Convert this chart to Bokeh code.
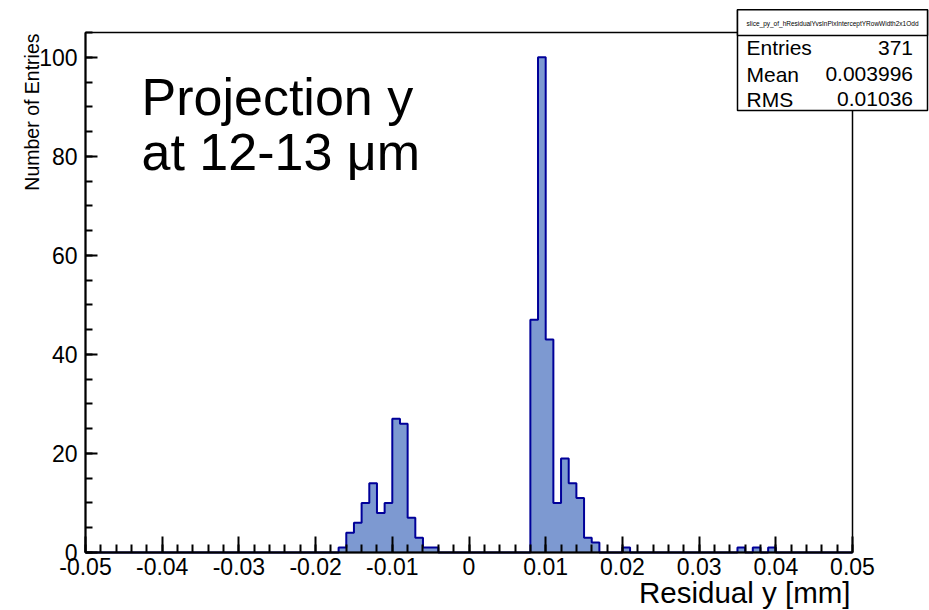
import math
import numpy as np
from bokeh.plotting import figure
from bokeh.models import Range1d, FixedTicker, Label, BoxAnnotation
from bokeh.embed import file_html
from bokeh.resources import INLINE

# ---- data ----
bin_low = -0.05
bin_width = 0.001
counts = [
    0, 0, 0, 0, 0, 0, 0, 0, 0, 0,
    0, 0, 0, 0, 0, 0, 0, 0, 0, 0,
    0, 0, 0, 0, 0, 0, 0, 0, 0, 0,
    0, 0, 0, 1, 4, 6, 10, 14, 8, 10,
    27, 26, 7, 3, 1, 1, 0, 0, 0, 0,
    0, 0, 0, 0, 0, 0, 0, 0, 47, 100,
    43, 10, 19, 14, 11, 3, 2, 0, 0, 0,
    1, 0, 0, 0, 0, 0, 0, 0, 0, 0,
    0, 0, 0, 0, 0, 1, 0, 1, 0, 1,
    0, 0, 0, 0, 0, 0, 0, 0, 0, 0,
]
x_ticks = [-0.05, -0.04, -0.03, -0.02, -0.01, 0.0, 0.01, 0.02, 0.03, 0.04, 0.05]
x_tick_labels = ["-0.05", "-0.04", "-0.03", "-0.02", "-0.01", "0", "0.01", "0.02", "0.03", "0.04", "0.05"]
y_ticks = [0, 20, 40, 60, 80, 100]
hist_name = "slice_py_of_hResidualYvsInPixInterceptYRowWidth2x1Odd"
stat_names = ["Entries", "Mean", "RMS"]
stat_values = ["371", "0.003996", "0.01036"]
title_lines = ["Projection y", "at 12-13 \u03bcm"]
x_title = "Residual y [mm]"
y_title = "Number of Entries"

# ---- layout (pixels of the ROOT frame inside the 929x610 canvas) ----
W, H = 929, 610
FL, FT, FW, FH = 85, 32, 767, 520
XMIN, XMAX, YMIN, YMAX = -0.05, 0.05, 0.0, 105.0
kx = (XMAX - XMIN) / FW
ky = (YMAX - YMIN) / FH
BASE_SHIFT = 0.38  # em: bokeh "alphabetic" anchor sits below the glyph baseline

def dx(px):
    return XMIN + (px - FL) * kx

def dy(py):
    return YMIN + (FT + FH - py) * ky

FONT = "Liberation Sans"
FILL = "#7d99d1"
LINE = "#000099"

p = figure(frame_width=W, frame_height=H, title=None,
           x_range=Range1d(dx(0), dx(W)), y_range=Range1d(dy(H), dy(0)),
           output_backend="svg", toolbar_location=None,
           min_border=0)
p.background_fill_color = "white"
p.border_fill_color = "white"
p.outline_line_color = None
p.grid.visible = False

edges = [bin_low + i * bin_width for i in range(len(counts) + 1)]
sx, sy = [edges[0]], [0]
for i, c in enumerate(counts):
    sx += [edges[i], edges[i + 1]]
    sy += [c, c]
sx.append(edges[-1]); sy.append(0)
p.patch(sx, sy, fill_color=FILL, line_color=None)
p.line(sx, sy, line_color=LINE, line_width=2)

# ROOT frame box
p.add_layout(BoxAnnotation(left=XMIN, right=XMAX, bottom=YMIN, top=YMAX,
                           fill_alpha=0, line_color="black", line_alpha=1.0,
                           line_width=1.5))

# axes, pinned at the frame edges
xa = p.xaxis[0]
xa.fixed_location = YMIN
xa.bounds = (XMIN, XMAX)
xa.ticker = FixedTicker(ticks=x_ticks,
                        minor_ticks=list(np.round(np.arange(-0.05, 0.0501, 0.002), 3)))
xa.major_label_overrides = dict(zip(x_ticks, x_tick_labels))
ya = p.yaxis[0]
ya.fixed_location = XMIN
ya.bounds = (YMIN, YMAX)
ya.ticker = FixedTicker(ticks=y_ticks, minor_ticks=list(range(0, 106, 5)))
for ax, tin, mtin in ((xa, 16, 8), (ya, 12, 7)):
    ax.axis_line_color = "black"
    ax.axis_line_width = 2
    ax.major_tick_in = tin
    ax.major_tick_out = 0
    ax.minor_tick_in = mtin
    ax.minor_tick_out = 0
    ax.major_tick_line_width = 2
    ax.minor_tick_line_width = 2
    ax.major_tick_line_color = "black"
    ax.minor_tick_line_color = "black"
    ax.major_label_text_font = FONT
    ax.major_label_text_font_size = "23px"
    ax.major_label_text_color = "black"
xa.major_label_standoff = 5
ya.major_label_standoff = 8


def text(px, py, s, size, align="left", angle=0.0, level="annotation"):
    if angle:
        # rotated 90 deg ccw: baseline lies along x
        x, y = dx(px - BASE_SHIFT * size), dy(py)
    else:
        x, y = dx(px), dy(py - BASE_SHIFT * size)
    p.add_layout(Label(x=x, y=y, text=s, text_align=align, angle=angle,
                       text_baseline="alphabetic", text_font=FONT,
                       text_font_size=f"{size}px", text_color="black", level=level))


# axis titles
text(850, 603, x_title, 29.5, align="right")
text(39, 33, y_title, 19.5, align="right", angle=math.pi / 2)

# big text
for line, base in zip(title_lines, [116.7, 171.7]):
    text(141, base, line, 52)

# stats box
for top, bottom in ((9.3, 110), (9.3, 35)):
    p.add_layout(BoxAnnotation(left=dx(737), right=dx(927), top=dy(top), bottom=dy(bottom),
                               fill_color="white", fill_alpha=1.0, line_color="black",
                               line_alpha=1.0, line_width=1.5, level="overlay"))
p.add_layout(Label(x=dx(832), y=dy(22.5), text=hist_name, text_align="center",
                   text_baseline="middle", text_font=FONT, text_font_size="6.5px",
                   text_color="black", level="overlay"))
for name, val, base in zip(stat_names, stat_values, [55, 81.7, 106.7]):
    text(746, base, name, 21, level="overlay")
    text(912.5, base, val, 21, align="right", level="overlay")

open("out.html", "w").write(file_html(p, INLINE))
